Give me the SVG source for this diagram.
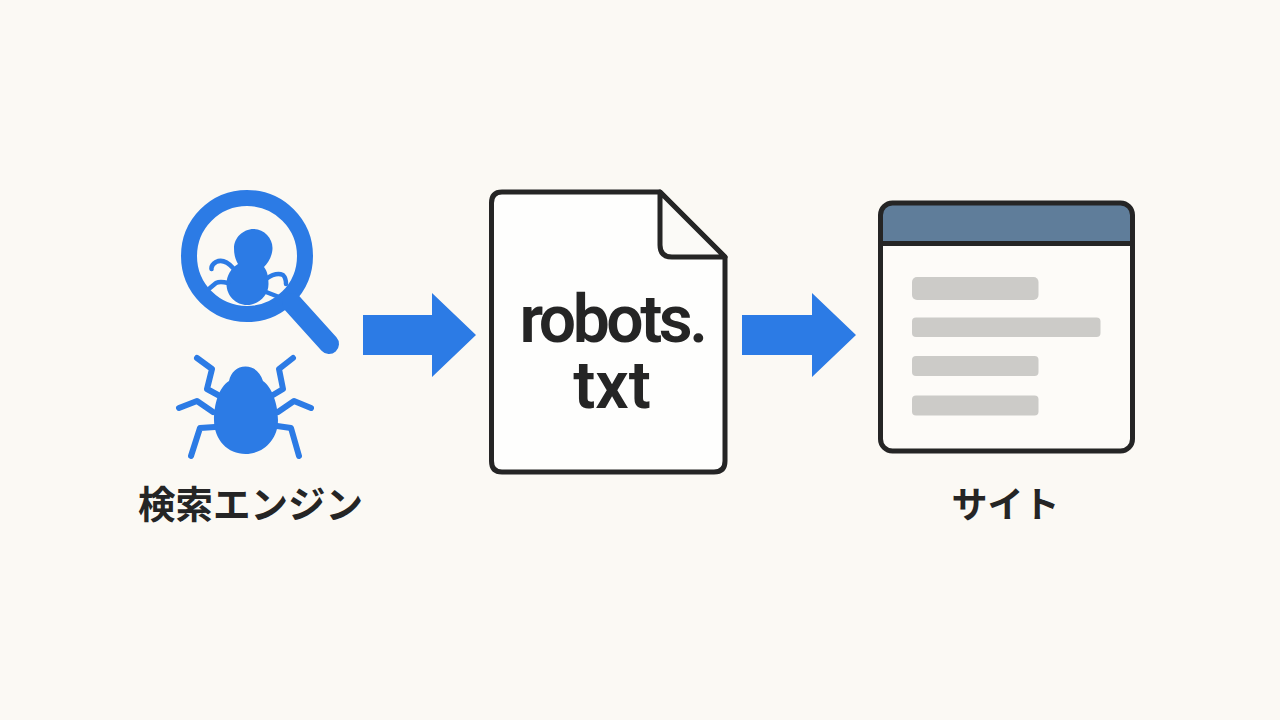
<svg xmlns="http://www.w3.org/2000/svg" width="1280" height="720" viewBox="0 0 1280 720">
<style>
.blue{fill:#2c7be5}
.ring{fill:none;stroke:#2c7be5;stroke-width:16}
.handle{fill:none;stroke:#2c7be5;stroke-width:20;stroke-linecap:round}
.leg{fill:none;stroke:#2c7be5;stroke-width:6;stroke-linecap:round;stroke-linejoin:round}
.ink{fill:none;stroke:#252525;stroke-width:5;stroke-linejoin:round}
.bar{fill:#cccbc8}
.label{font-family:"Noto Sans CJK JP",sans-serif;font-weight:700;font-size:37.500px;fill:#252525;text-anchor:middle}
.doc{font-family:Roboto,"Noto Sans",sans-serif;font-weight:600;font-size:66px;fill:#252525;text-anchor:middle}
</style>
<rect width="1280" height="720" fill="#fbf9f4"/>
<g id="search-engine">
<circle class="ring" cx="247" cy="256" r="58"/>
<path class="handle" d="M292 303L329 344"/>
<path class="blue" d="M253.500 229C264 229 272.500 238 272.500 248C272.500 256 268 263 264 267C268 272 268.500 279 268.500 284C268.500 296 258 305 247 305C236 305 226.500 296 226.500 284C226.500 276 231 268 238 264C235 259 234 254 234 248C234 238 243 229 253.500 229Z"/>
<path class="leg" style="stroke-width:4.500" d="M233 268Q224 258 216 262Q211 265 211.500 269M228 283Q220 281 216 283L210 288M266 279Q276 272 283 275Q286 278 286 284M266 292L279 297"/>
<path class="blue" d="M245.500 366.500C254 366.500 260 372 263 381C272 387 278 404 278 420C278 440 263 454 245.500 454C228 454 214 440 214 420C214 404 219 387 229 381C231 372 237 366.500 245.500 366.500Z"/>
<path class="leg" d="M197 358L212 369L207 389L218 395M179 408L197 401L213 412M191 456L200 428L215 427M293 358L279 369L283 389L273 395M311 408L294 401L278 412M299 456L291 428L277 426"/>
<text class="label" x="250.500" y="518">検索エンジン</text>
</g>
<g id="connectors">
<polygon class="blue" points="363,315 432,315 432,293 476,335 432,377 432,355 363,355"/>
<polygon class="blue" points="742,315 812,315 812,293 856,335 812,377 812,355 742,355"/>
</g>
<g id="robots-file">
<path class="ink" style="fill:#fefefd" d="M502 192L660 192L725 257L725 461Q725 472 714 472L502 472Q491.500 472 491.500 461L491.500 203Q491.500 192 502 192Z"/>
<path class="ink" style="fill:#fbfaf7" d="M660 192L725 257L672 257Q660 257 660 245Z"/>
<text class="doc" x="612" y="341.500" style="letter-spacing:-3.500px">robots.</text>
<text class="doc" x="612" y="408">txt</text>
</g>
<g id="site">
<rect x="880.500" y="203" width="252" height="248" rx="12" fill="#fdfbf8"/>
<path d="M880.500 243.500L880.500 215Q880.500 203 892.500 203L1120.500 203Q1132.500 203 1132.500 215L1132.500 243.500Z" fill="#5f7d9a"/>
<rect class="ink" x="880.500" y="203" width="252" height="248" rx="12"/>
<path class="ink" d="M880.500 243.500L1132.500 243.500"/>
<rect class="bar" x="912" y="277" width="126.500" height="23" rx="5"/>
<rect class="bar" x="912" y="317.500" width="188.500" height="19.500" rx="4"/>
<rect class="bar" x="912" y="356" width="126.500" height="20" rx="4"/>
<rect class="bar" x="912" y="395.500" width="126.500" height="20" rx="4"/>
<text class="label" x="1005.500" y="518" style="font-size:36px">サイト</text>
</g>
</svg>
